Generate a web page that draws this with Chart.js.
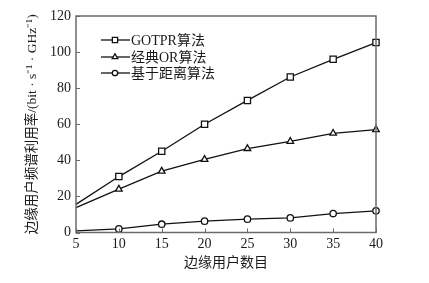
<!DOCTYPE html>
<html>
<head>
<meta charset="utf-8">
<script src="https://cdn.jsdelivr.net/npm/chart.js@4/dist/chart.umd.min.js"></script>
<style>
  html, body { margin: 0; padding: 0; background: #fff; }
  #wrap { width: 429px; height: 283px; }
</style>
</head>
<body>
<div id="wrap"><canvas id="grafico"></canvas></div>
<script>
const usuarios = [5, 10, 15, 20, 25, 30, 35, 40];
const gotpr = [15.6, 31, 45, 60, 73.2, 86.2, 96, 105.3];
const classico = [13.8, 24, 34, 40.5, 46.5, 50.5, 55, 57];
const distancia = [0.9, 2, 4.6, 6.3, 7.4, 8.1, 10.5, 12];
const nomes = ['GOTPR算法', '经典OR算法', '基于距离算法'];
const ticksY = [0, 20, 40, 60, 80, 100, 120];

const fonte = "'Liberation Serif', 'Noto Sans CJK SC', serif";
const corEixo = '#6b6b6b';

const pares = (ys) => usuarios.map((x, i) => ({ x: x, y: ys[i] }));
const raios = (r) => usuarios.map((x, i) => i === 0 ? 0 : r);

const estilos = [
    { pointStyle: 'rect', radius: 4.4 },
    { pointStyle: 'triangle', radius: 3.8 },
    { pointStyle: 'circle', radius: 3.2 }
];

const serie = (label, ys, k) => ({
    label: label,
    data: pares(ys),
    borderColor: '#111',
    borderWidth: 1.3,
    backgroundColor: '#fff',
    pointBackgroundColor: '#fff',
    pointBorderColor: '#111',
    pointBorderWidth: 1.3,
    pointStyle: estilos[k].pointStyle,
    pointRadius: raios(estilos[k].radius),
    tension: 0,
    clip: false
});

// moldura, marcas para dentro e legenda dentro do grafico
const moldura = {
    id: 'moldura',
    afterDatasetsDraw(chart) {
        const ctx = chart.ctx;
        const a = chart.chartArea;
        const sx = chart.scales.x, sy = chart.scales.y;
        ctx.save();
        ctx.strokeStyle = corEixo;
        ctx.lineWidth = 1.5;
        ctx.strokeRect(a.left, a.top, a.right - a.left, a.bottom - a.top);
        ctx.lineWidth = 1;
        ctx.beginPath();
        usuarios.forEach(v => {
            const px = Math.round(sx.getPixelForValue(v)) + 0.5;
            ctx.moveTo(px, a.bottom);
            ctx.lineTo(px, a.bottom - 4);
        });
        ticksY.forEach(v => {
            const py = Math.round(sy.getPixelForValue(v)) + 0.5;
            ctx.moveTo(a.left, py);
            ctx.lineTo(a.left + 4, py);
        });
        ctx.stroke();

        // legenda
        const linhas = [40, 57, 73];
        chart.data.datasets.forEach((ds, i) => {
            const y = linhas[i];
            ctx.strokeStyle = '#111';
            ctx.lineWidth = 1.3;
            ctx.beginPath();
            ctx.moveTo(101, y);
            ctx.lineTo(130, y);
            ctx.stroke();
            ctx.fillStyle = '#fff';
            Chart.helpers.drawPoint(ctx, {
                pointStyle: estilos[i].pointStyle,
                radius: estilos[i].radius * 0.85,
                borderWidth: 1.3,
                rotation: 0
            }, 115, y);
            ctx.fillStyle = '#1a1a1a';
            ctx.font = "14px " + fonte;
            ctx.textBaseline = 'middle';
            ctx.textAlign = 'left';
            ctx.fillText(ds.label, 131, y + 1);
        });
        ctx.restore();
    }
};

const ctx = document.getElementById('grafico').getContext('2d');
const grafico = new Chart(ctx, {
    type: 'line',
    data: {
        datasets: [
            serie(nomes[0], gotpr, 0),
            serie(nomes[1], classico, 1),
            serie(nomes[2], distancia, 2)
        ]
    },
    plugins: [moldura],
    options: {
        responsive: true,
        maintainAspectRatio: false,
        animation: false,
        layout: {
            padding: { left: 0, right: 53, top: 16, bottom: 0 }
        },
        plugins: {
            legend: { display: false },
            tooltip: { enabled: false }
        },
        scales: {
            x: {
                type: 'linear',
                min: 5,
                max: 40,
                afterFit: (s) => { s.height = 50.5; },
                afterBuildTicks: (s) => { s.ticks = usuarios.map(v => ({ value: v })); },
                grid: { display: false, drawTicks: false },
                border: { display: false },
                ticks: {
                    padding: 3,
                    color: '#1a1a1a',
                    font: { family: fonte, size: 14 }
                },
                title: {
                    display: true,
                    text: '边缘用户数目',
                    color: '#1a1a1a',
                    font: { family: fonte, size: 14 },
                    padding: { top: 0, bottom: 11 }
                }
            },
            y: {
                min: 0,
                max: 120,
                afterFit: (s) => { s.width = 76; },
                afterBuildTicks: (s) => { s.ticks = ticksY.map(v => ({ value: v })); },
                grid: { display: false, drawTicks: false },
                border: { display: false },
                ticks: {
                    padding: 5,
                    color: '#1a1a1a',
                    font: { family: fonte, size: 14 }
                },
                title: {
                    display: true,
                    text: '边缘用户频谱利用率/(bit · s⁻¹ · GHz⁻¹)',
                    color: '#1a1a1a',
                    font: { family: fonte, size: 13.5 },
                    padding: { top: 24, bottom: 0 }
                }
            }
        }
    }
});
</script>
</body>
</html>
